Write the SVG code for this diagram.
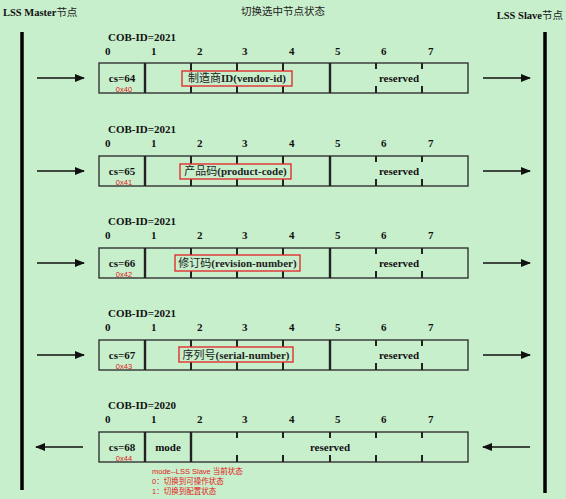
<svg xmlns="http://www.w3.org/2000/svg" width="566" height="499" viewBox="0 0 566 499">
<defs>
<marker id="ah" markerWidth="10" markerHeight="8" refX="9" refY="4" orient="auto" markerUnits="userSpaceOnUse">
<path d="M0,0 L10,4 L0,8 Z" fill="#111"/>
</marker>
<style>
.t{font-family:"Liberation Serif","Noto Sans CJK SC",serif;font-weight:bold;font-size:11px;fill:#111}
.h{font-family:"Liberation Serif","Noto Sans CJK SC",serif;font-weight:bold;font-size:10.5px;fill:#111}
.hc{font-family:"Noto Sans CJK SC","Liberation Serif",serif;font-size:10.5px;fill:#222}
.c{text-anchor:middle}
.hx{font-family:"Liberation Sans",sans-serif;font-size:7.5px;fill:#e02020}
.an{font-family:"Liberation Sans","Noto Sans CJK SC",sans-serif;font-size:7.5px;fill:#e02020}
.box{fill:none;stroke:#333;stroke-width:1.4}
.div{stroke:#222;stroke-width:2.4}
.tick{stroke:#222;stroke-width:2}
.lbl{fill:#c8efcc;stroke:#e03030;stroke-width:1.4}
.arr{stroke:#111;stroke-width:1.4;marker-end:url(#ah)}
.cn{font-family:"Liberation Serif","Noto Sans CJK SC",serif;font-weight:bold;font-size:11px;fill:#222}
.zh{font-family:"Noto Sans CJK SC",sans-serif;font-weight:normal}
</style>
</defs>
<rect width="566" height="499" fill="#c8efcc"/>
<g id="header">
<text x="3" y="16" class="h">LSS Master<tspan class="hc" font-weight="normal">节点</tspan></text>
<text x="283" y="15" class="hc c">切换选中节点状态</text>
<text x="563" y="19" class="h" text-anchor="end">LSS Slave<tspan class="hc" font-weight="normal">节点</tspan></text>
</g>
<g id="master-line"><line x1="22" y1="32" x2="22" y2="490" stroke="#000" stroke-width="3.5"/></g>
<g id="slave-line"><line x1="545" y1="32" x2="545" y2="493" stroke="#000" stroke-width="3.5"/></g>

<g id="frame1">
<text x="108" y="41" class="t">COB-ID=2021</text>
<g class="t"><text x="105" y="55">0</text><text x="151" y="55">1</text><text x="197" y="55">2</text><text x="242" y="55">3</text><text x="289" y="55">4</text><text x="335" y="55">5</text><text x="381" y="55">6</text><text x="428" y="55">7</text></g>
<rect x="99" y="63" width="369" height="30" class="box"/>
<line x1="145" y1="63" x2="145" y2="93" class="div"/>
<line x1="191" y1="63" x2="191" y2="93" class="tick"/>
<line x1="237" y1="63" x2="237" y2="93" class="tick"/>
<line x1="283" y1="63" x2="283" y2="93" class="tick"/>
<line x1="330" y1="63" x2="330" y2="93" class="div"/>
<line x1="376" y1="63" x2="376" y2="69" class="tick"/><line x1="376" y1="86" x2="376" y2="93" class="tick"/>
<line x1="422" y1="63" x2="422" y2="69" class="tick"/><line x1="422" y1="86" x2="422" y2="93" class="tick"/>
<text x="122" y="82" class="t c">cs=64</text>
<text x="124" y="92" class="hx c">0x40</text>
<rect x="182" y="71" width="110" height="15" class="lbl"/>
<text x="237" y="82" class="cn c"><tspan class="zh">制造商</tspan>ID(vendor-id)</text>
<text x="399" y="82" class="t c">reserved</text>
</g>

<g id="frame2">
<text x="108" y="133" class="t">COB-ID=2021</text>
<g class="t"><text x="105" y="147">0</text><text x="151" y="147">1</text><text x="197" y="147">2</text><text x="242" y="147">3</text><text x="289" y="147">4</text><text x="335" y="147">5</text><text x="381" y="147">6</text><text x="428" y="147">7</text></g>
<rect x="99" y="156" width="369" height="30" class="box"/>
<line x1="145" y1="156" x2="145" y2="186" class="div"/>
<line x1="191" y1="156" x2="191" y2="186" class="tick"/>
<line x1="237" y1="156" x2="237" y2="186" class="tick"/>
<line x1="283" y1="156" x2="283" y2="186" class="tick"/>
<line x1="330" y1="156" x2="330" y2="186" class="div"/>
<line x1="376" y1="156" x2="376" y2="162" class="tick"/><line x1="376" y1="179" x2="376" y2="186" class="tick"/>
<line x1="422" y1="156" x2="422" y2="162" class="tick"/><line x1="422" y1="179" x2="422" y2="186" class="tick"/>
<text x="122" y="175" class="t c">cs=65</text>
<text x="124" y="185" class="hx c">0x41</text>
<rect x="180" y="164" width="111" height="15" class="lbl"/>
<text x="235.5" y="175" class="cn c"><tspan class="zh">产品码</tspan>(product-code)</text>
<text x="399" y="175" class="t c">reserved</text>
</g>

<g id="frame3">
<text x="108" y="225" class="t">COB-ID=2021</text>
<g class="t"><text x="105" y="239">0</text><text x="151" y="239">1</text><text x="197" y="239">2</text><text x="242" y="239">3</text><text x="289" y="239">4</text><text x="335" y="239">5</text><text x="381" y="239">6</text><text x="428" y="239">7</text></g>
<rect x="99" y="248" width="369" height="30" class="box"/>
<line x1="145" y1="248" x2="145" y2="278" class="div"/>
<line x1="191" y1="248" x2="191" y2="278" class="tick"/>
<line x1="237" y1="248" x2="237" y2="278" class="tick"/>
<line x1="283" y1="248" x2="283" y2="278" class="tick"/>
<line x1="330" y1="248" x2="330" y2="278" class="div"/>
<line x1="376" y1="248" x2="376" y2="254" class="tick"/><line x1="376" y1="271" x2="376" y2="278" class="tick"/>
<line x1="422" y1="248" x2="422" y2="254" class="tick"/><line x1="422" y1="271" x2="422" y2="278" class="tick"/>
<text x="122" y="267" class="t c">cs=66</text>
<text x="124" y="277" class="hx c">0x42</text>
<rect x="175" y="255" width="125" height="16" class="lbl"/>
<text x="237.5" y="267" class="cn c"><tspan class="zh">修订码</tspan>(revision-number)</text>
<text x="399" y="267" class="t c">reserved</text>
</g>

<g id="frame4">
<text x="108" y="317" class="t">COB-ID=2021</text>
<g class="t"><text x="105" y="331">0</text><text x="151" y="331">1</text><text x="197" y="331">2</text><text x="242" y="331">3</text><text x="289" y="331">4</text><text x="335" y="331">5</text><text x="381" y="331">6</text><text x="428" y="331">7</text></g>
<rect x="99" y="340" width="369" height="30" class="box"/>
<line x1="145" y1="340" x2="145" y2="370" class="div"/>
<line x1="191" y1="340" x2="191" y2="370" class="tick"/>
<line x1="237" y1="340" x2="237" y2="370" class="tick"/>
<line x1="283" y1="340" x2="283" y2="370" class="tick"/>
<line x1="330" y1="340" x2="330" y2="370" class="div"/>
<line x1="376" y1="340" x2="376" y2="346" class="tick"/><line x1="376" y1="363" x2="376" y2="370" class="tick"/>
<line x1="422" y1="340" x2="422" y2="346" class="tick"/><line x1="422" y1="363" x2="422" y2="370" class="tick"/>
<text x="122" y="359" class="t c">cs=67</text>
<text x="124" y="369" class="hx c">0x43</text>
<rect x="179" y="347" width="114" height="15" class="lbl"/>
<text x="236" y="359" class="cn c"><tspan class="zh">序列号</tspan>(serial-number)</text>
<text x="399" y="359" class="t c">reserved</text>
</g>

<g id="frame5">
<text x="108" y="409" class="t">COB-ID=2020</text>
<g class="t"><text x="105" y="423">0</text><text x="151" y="423">1</text><text x="197" y="423">2</text><text x="242" y="423">3</text><text x="289" y="423">4</text><text x="335" y="423">5</text><text x="381" y="423">6</text><text x="428" y="423">7</text></g>
<rect x="99" y="432" width="369" height="30" class="box"/>
<line x1="145" y1="432" x2="145" y2="462" class="div"/>
<line x1="191" y1="432" x2="191" y2="462" class="div"/>
<line x1="237" y1="432" x2="237" y2="438" class="tick"/><line x1="237" y1="455" x2="237" y2="462" class="tick"/>
<line x1="283" y1="432" x2="283" y2="438" class="tick"/><line x1="283" y1="455" x2="283" y2="462" class="tick"/>
<line x1="330" y1="432" x2="330" y2="438" class="tick"/><line x1="330" y1="455" x2="330" y2="462" class="tick"/>
<line x1="376" y1="432" x2="376" y2="438" class="tick"/><line x1="376" y1="455" x2="376" y2="462" class="tick"/>
<line x1="422" y1="432" x2="422" y2="438" class="tick"/><line x1="422" y1="455" x2="422" y2="462" class="tick"/>
<text x="122" y="451" class="t c">cs=68</text>
<text x="124" y="461" class="hx c">0x44</text>
<text x="168" y="451" class="t c">mode</text>
<text x="330" y="451" class="t c">reserved</text>
<text x="152" y="474" class="an">mode--LSS Slave 当前状态</text>
<text x="152" y="484" class="an">0：切换到可操作状态</text>
<text x="152" y="494" class="an">1：切换到配置状态</text>
</g>

<g id="connectors">
<line x1="37" y1="78" x2="84" y2="78" class="arr"/>
<line x1="483" y1="78" x2="530" y2="78" class="arr"/>
<line x1="37" y1="171" x2="84" y2="171" class="arr"/>
<line x1="483" y1="171" x2="530" y2="171" class="arr"/>
<line x1="37" y1="263" x2="84" y2="263" class="arr"/>
<line x1="483" y1="263" x2="530" y2="263" class="arr"/>
<line x1="37" y1="355" x2="84" y2="355" class="arr"/>
<line x1="483" y1="355" x2="530" y2="355" class="arr"/>
<line x1="83" y1="447" x2="36" y2="447" class="arr"/>
<line x1="530" y1="447" x2="483" y2="447" class="arr"/>
</g>
</svg>
